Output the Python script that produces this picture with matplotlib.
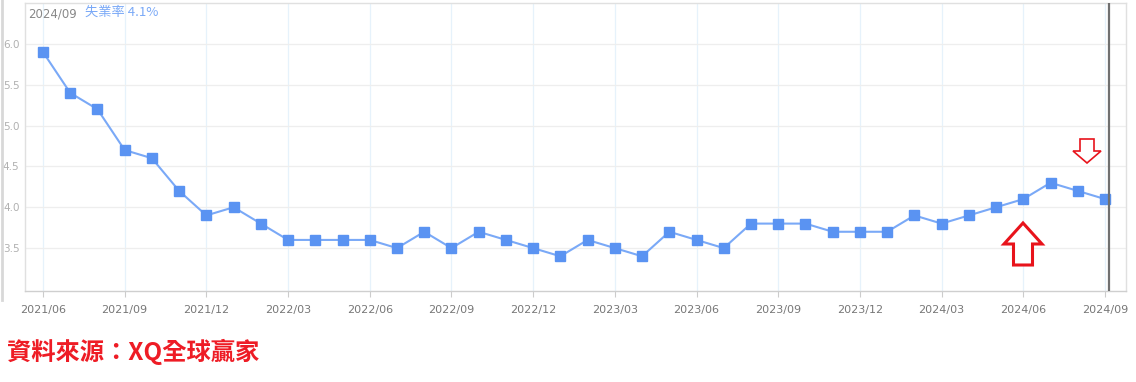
import matplotlib
matplotlib.use("Agg")
import matplotlib.pyplot as plt
from matplotlib.patches import Polygon
from matplotlib.lines import Line2D
import numpy as np

# monthly unemployment rate, 2021/06 .. 2024/09
months = [f"{y}/{m:02d}" for y in range(2021, 2025) for m in range(1, 13)]
months = months[5:5 + 40]
rates = [5.9, 5.4, 5.2, 4.7, 4.6, 4.2, 3.9, 4.0, 3.8, 3.6,
         3.6, 3.6, 3.6, 3.5, 3.7, 3.5, 3.7, 3.6, 3.5, 3.4,
         3.6, 3.5, 3.4, 3.7, 3.6, 3.5, 3.8, 3.8, 3.8, 3.7,
         3.7, 3.7, 3.9, 3.8, 3.9, 4.0, 4.1, 4.3, 4.2, 4.1]
yTicks = [3.5, 4.0, 4.5, 5.0, 5.5, 6.0]
xTickLabels = months[::3]

plt.rcParams["font.family"] = ["Noto Sans CJK TC", "DejaVu Sans"]

W, H = 1136, 382
fig = plt.figure(figsize = (W / 100, H / 100), dpi = 100, facecolor = "white")

left, right, top, bottom = 25, 1126, 3, 291
ax = fig.add_axes([left / W, 1 - bottom / H, (right - left) / W, (bottom - top) / H])

x = np.arange(len(rates))
ax.plot(x, rates, color = "#7aa9f7", linewidth = 1.5, zorder = 3)
ax.plot(x, rates, linestyle = "none", marker = "s", markersize = 7,
        color = "#5a93f2", zorder = 4)

ax.set_xlim(-0.66, 39.77)
ax.set_ylim(2.975, 6.5)

ax.set_yticks(yTicks)
ax.set_yticklabels([f"{v:.1f}" for v in yTicks])
ax.set_xticks(x[::3])
ax.set_xticklabels(xTickLabels)

ax.tick_params(axis = "y", length = 0, pad = 4, labelsize = 7.5, labelcolor = "#b0b0b0")
ax.tick_params(axis = "x", length = 4, width = 0.8, color = "#cccccc", pad = 6,
               labelsize = 8, labelcolor = "#777777")
for lab in ax.get_xticklabels() + ax.get_yticklabels():
    lab.set_family("DejaVu Sans")

ax.grid(True, axis = "y", color = "#eeeeee", linewidth = 0.9)
ax.grid(True, axis = "x", color = "#e6f2fb", linewidth = 0.9)
ax.set_axisbelow(True)

for name, spine in ax.spines.items():
    spine.set_color("#e0e0e0")
    spine.set_linewidth(1.0)
ax.spines["bottom"].set_color("#cfcfcf")

# cursor line at latest month
ax.axvline(39.15, color = "#707070", linewidth = 1.6, zorder = 5)

# header text inside the chart
ax.text(0.003, 0.985, "2024/09", transform = ax.transAxes, ha = "left", va = "top",
        fontsize = 8.5, color = "#888888", family = "DejaVu Sans")
ax.text(0.0545, 0.99, "失業率 4.1%", transform = ax.transAxes, ha = "left", va = "top",
        fontsize = 9.5, color = "#7aa9f7")


def pixelArrow(cx, tipY, w, h, headFrac, shaftFrac, pointUp, lw):
    # arrow outline in figure pixels (y measured from top)
    hw = w / 2
    sw = w * shaftFrac / 2
    headH = h * headFrac
    s = 1 if pointUp else -1
    pts = [
        (cx, tipY),
        (cx + hw, tipY + s * headH),
        (cx + sw, tipY + s * headH),
        (cx + sw, tipY + s * h),
        (cx - sw, tipY + s * h),
        (cx - sw, tipY + s * headH),
        (cx - hw, tipY + s * headH),
    ]
    pts = [(px / W, 1 - py / H) for px, py in pts]
    fig.patches.append(Polygon(pts, closed = True, facecolor = "white", edgecolor = "#e8131b",
                               linewidth = lw, transform = fig.transFigure, zorder = 10))


pixelArrow(1023, 223, 38, 42, 0.5, 0.5, True, 2.2)
pixelArrow(1087, 163, 28, 24, 0.5, 0.5, False, 1.2)

# light edge line on the left of the screenshot
fig.add_artist(Line2D([1.5 / W, 1.5 / W], [1, 1 - 300 / H], color = "#d8d8d8",
                      linewidth = 2, transform = fig.transFigure))

fig.text(7 / W, 1 - 352 / H, "資料來源：XQ全球贏家", ha = "left", va = "center",
         fontsize = 17.5, fontweight = "bold", color = "#ee1c25")

fig.savefig("out.png", dpi = 100, facecolor = "white")
